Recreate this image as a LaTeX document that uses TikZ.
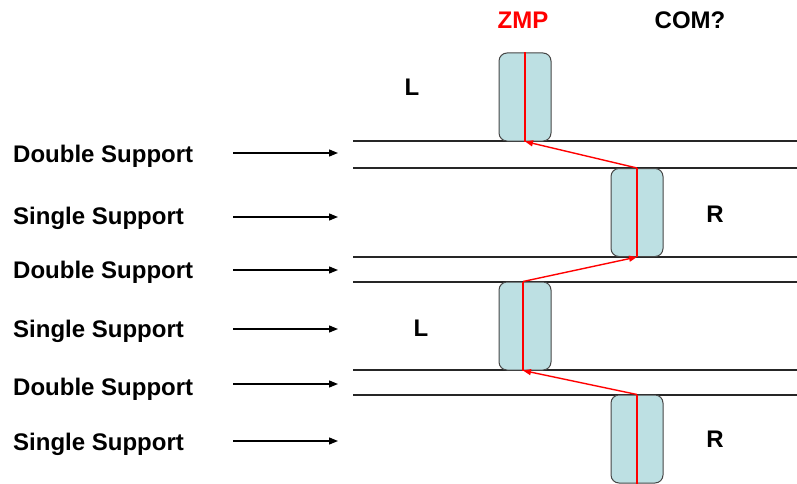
\documentclass[tikz,border=0pt]{standalone}
\usepackage{fontspec}
\setmainfont{Liberation Sans}
\usetikzlibrary{arrows.meta}
\definecolor{footfill}{RGB}{189,224,227}
\definecolor{footdraw}{RGB}{70,70,70}
\definecolor{zmpred}{RGB}{255,0,0}
\tikzset{
  lbl/.style={anchor=base west, inner sep=0pt, font=\bfseries\fontsize{24}{28}\selectfont},
  tag/.style={anchor=base, inner sep=0pt, font=\bfseries\fontsize{24}{28}\selectfont},
  foot/.style={draw=footdraw, line width=1pt, fill=footfill, rounded corners=8pt,
    minimum width=52pt, minimum height=88pt, inner sep=0pt},
  phasearrow/.style={line width=1.3pt, -{Triangle[length=9pt,width=7pt]}},
  phaseline/.style={line width=1.1pt, black!85},
  zmpline/.style={zmpred, line width=1.1pt},
  zmparrow/.style={zmpred, line width=1.4pt, -{Triangle[length=8pt,width=6pt]}},
}
\begin{document}
\begin{tikzpicture}[x=1pt,y=-1pt]
\useasboundingbox (0,0) rectangle (797,484);

% titles
\node[tag, text=zmpred] (zmp) at (523,29) {ZMP};
\node[tag] (com) at (690,29) {COM?};

% left labels
\node[lbl] (t1) at (13,162) {Double Support};
\node[lbl] (t2) at (13,224) {Single Support};
\node[lbl] (t3) at (13,278) {Double Support};
\node[lbl] (t4) at (13,337) {Single Support};
\node[lbl] (t5) at (13,395) {Double Support};
\node[lbl] (t6) at (13,450) {Single Support};

% arrows
\coordinate (a1s) at (233,153); \coordinate (a1e) at (338,153);
\coordinate (a2s) at (233,217); \coordinate (a2e) at (338,217);
\coordinate (a3s) at (233,270); \coordinate (a3e) at (338,270);
\coordinate (a4s) at (233,329); \coordinate (a4e) at (338,329);
\coordinate (a5s) at (233,384); \coordinate (a5e) at (338,384);
\coordinate (a6s) at (233,441); \coordinate (a6e) at (338,441);
\foreach \i in {1,...,6} \draw[phasearrow] (a\i s) -- (a\i e);

% phase boundary lines
\foreach \n/\y in {1/141,2/168,3/257,4/282,5/370,6/395}{
  \coordinate (h\n s) at (353,\y);
  \coordinate (h\n e) at (797,\y);
  \draw[phaseline] (h\n s) -- (h\n e);
}

% feet
\node[foot] (f1) at (525,97) {};
\node[foot] (f2) at (637,212.5) {};
\node[foot] (f3) at (525,326) {};
\node[foot] (f4) at (637,439) {};

% ZMP lines inside feet
\draw[zmpline] (f1.north) -- (f1.south);
\draw[zmpline] (f2.north) -- (f2.south);
\draw[zmpline] ([xshift=-2pt]f3.north) coordinate (f3n) -- ([xshift=-2pt]f3.south) coordinate (f3s);
\draw[zmpline] (f4.north) -- (f4.south);

% ZMP transfer arrows
\draw[zmparrow] (f2.north) -- (f1.south);
\draw[zmparrow] (f3n) -- (f2.south);
\draw[zmparrow] (f4.north) -- (f3s);

% side labels
\node[tag] (l1) at (412,96) {L};
\node[tag] (r1) at (715,222) {R};
\node[tag] (l2) at (421,336) {L};
\node[tag] (r2) at (715,447) {R};
\end{tikzpicture}
\end{document}
